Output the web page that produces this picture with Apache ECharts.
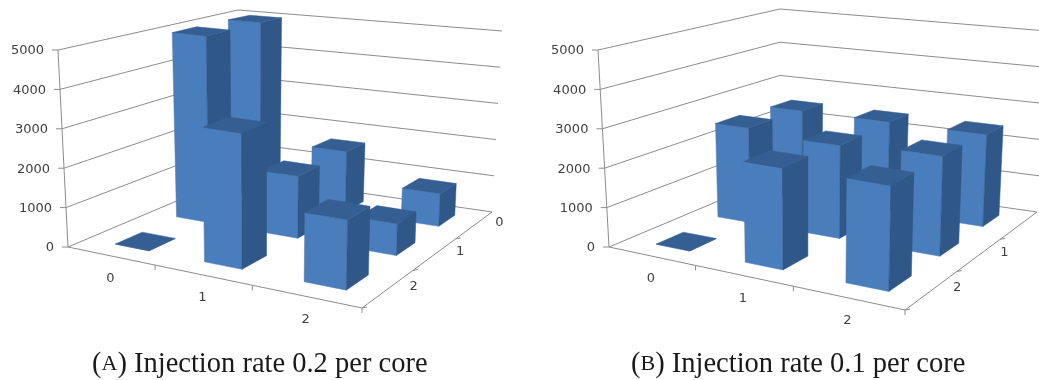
<!DOCTYPE html>
<html>
<head>
    <meta charset="utf-8">
    <title>Injection rate</title>
    <style>
        html, body { margin: 0; padding: 0; background: #fff; }
        #main { width: 1039px; height: 380px; }
    </style>
</head>
<body>
    <div id="main"></div>
    <script src="https://cdn.jsdelivr.net/npm/echarts@6/dist/echarts.min.js"></script>
    <script>
        // data, one list per depth row (row 0 is the back one)
        var columns = ['0', '1', '2'];
        var depths = ['0', '1', '2'];
        var valueTicks = [0, 1000, 2000, 3000, 4000, 5000];
        var rate02Back = [4980, 1650, 870];
        var rate02Middle = [4980, 1610, 800];
        var rate02Front = [0, 3350, 1680];
        var rate01Back = [2470, 2460, 2450];
        var rate01Middle = [2520, 2410, 2520];
        var rate01Front = [0, 2500, 2530];

        // walls of the two scenes as seen on screen: back-left, back-right, front-right, front-left
        var floorA = [[238, 175], [492, 212], [362, 308], [68, 247]];
        var roofA = [[238, 10], [502, 31], [367, 95], [58, 50]];
        var floorB = [[780, 175], [1037, 212], [905, 310], [609, 247]];
        var roofB = [[780, 9], [1047, 31], [910, 96], [598, 50]];

        var GAP_LEFT = 0.33;
        var GAP_RIGHT = 0.28;
        var GAP_DEPTH = 0.29;
        var FRONT = '#4a7dbb';
        var SIDE = '#2f5787';
        var TOP = '#355f92';
        var LINE = '#8c8c8c';
        var LABEL = '#404040';

        // unit square -> quadrilateral
        function homography(q) {
            var dx1 = q[1][0] - q[2][0], dx2 = q[3][0] - q[2][0], sx = q[0][0] - q[1][0] + q[2][0] - q[3][0];
            var dy1 = q[1][1] - q[2][1], dy2 = q[3][1] - q[2][1], sy = q[0][1] - q[1][1] + q[2][1] - q[3][1];
            var den = dx1 * dy2 - dx2 * dy1;
            var g = (sx * dy2 - dx2 * sy) / den;
            var h = (dx1 * sy - sx * dy1) / den;
            var a = q[1][0] - q[0][0] + g * q[1][0], b = q[3][0] - q[0][0] + h * q[3][0];
            var d = q[1][1] - q[0][1] + g * q[1][1], e = q[3][1] - q[0][1] + h * q[3][1];
            return function (u, w) {
                var n = g * u + h * w + 1;
                return [(a * u + b * w + q[0][0]) / n, (d * u + e * w + q[0][1]) / n];
            };
        }

        // column and value go through the hidden axes of the grid, depth is the third dimension.
        // the height vector of a point is blended from the four corners of the scene
        function projector(floor, roof, params, api) {
            var toFloor = homography(floor);
            var rect = params.coordSys;
            function lift(k, i) { return roof[k][i] - floor[k][i]; }
            return function (col, depth, value) {
                var p = api.coord([col, value]);
                var u = (p[0] - rect.x) / rect.width;
                var t = (rect.y + rect.height - p[1]) / rect.height;
                var w = depth / depths.length;
                var f = toFloor(u, w);
                return [0, 1].map(function (i) {
                    var far = lift(0, i) * (1 - u) + lift(1, i) * u;
                    var near = lift(3, i) * (1 - u) + lift(2, i) * u;
                    return f[i] + t * (far * (1 - w) + near * w);
                });
            };
        }

        function segment(a, b) {
            return { type: 'line', shape: { x1: a[0], y1: a[1], x2: b[0], y2: b[1] }, style: { stroke: LINE, lineWidth: 1 } };
        }

        function label(text, x, y, align, size) {
            return { type: 'text', style: { text: text, x: x, y: y, align: align, verticalAlign: 'middle',
                                            font: size + 'px "DejaVu Sans"', fill: LABEL } };
        }

        function wallSeries(gridIndex, floor, roof) {
            return {
                type: 'custom', xAxisIndex: gridIndex, yAxisIndex: gridIndex, silent: true,
                data: valueTicks.map(function (v) { return [0, v]; }),
                renderItem: function (params, api) {
                    var p = projector(floor, roof, params, api);
                    var v = api.value(1);
                    var nc = columns.length, nd = depths.length;
                    var left = p(0, nd, v);
                    var children = [
                        segment(left, p(0, 0, v)),
                        segment(p(0, 0, v), p(nc, 0, v)),
                        segment(left, [left[0] - 6, left[1]]),
                        label(String(v), left[0] - 14, left[1] + 1, 'right', 13)
                    ];
                    if (v > 0) {
                        children.push(segment(left, p(0, nd, v - 1000)));
                    }
                    return { type: 'group', children: children };
                }
            };
        }

        function floorSeries(gridIndex, floor, roof) {
            return {
                type: 'custom', xAxisIndex: gridIndex, yAxisIndex: gridIndex, silent: true,
                data: columns.map(function (c, i) { return [i, 0]; }),
                renderItem: function (params, api) {
                    var p = projector(floor, roof, params, api);
                    var i = api.value(0);
                    var nc = columns.length, nd = depths.length;
                    var a = p(i, nd, 0), b = p(i + 1, nd, 0), m = p(i + 0.5, nd, 0);
                    var c = p(nc, i, 0), d = p(nc, i + 1, 0), n = p(nc, i + 0.5, 0);
                    return { type: 'group', children: [
                        segment(a, b),
                        segment(b, [b[0], b[1] + 5]),
                        segment(c, d),
                        segment(d, [d[0] + 5, d[1] - 1]),
                        label(columns[i], m[0], m[1] + 23, 'center', 13),
                        label(depths[i], n[0] + 25, n[1] - 2, 'center', 13)
                    ] };
                }
            };
        }

        function barSeries(gridIndex, floor, roof, rows) {
            var cells = [];
            rows.forEach(function (row, d) {
                row.forEach(function (v, c) { cells.push([c, v, d]); });
            });
            return {
                type: 'custom', xAxisIndex: gridIndex, yAxisIndex: gridIndex, silent: true,
                data: cells,
                renderItem: function (params, api) {
                    var p = projector(floor, roof, params, api);
                    var c = api.value(0), v = api.value(1), d = api.value(2);
                    var u0 = c + GAP_LEFT, u1 = c + 1 - GAP_RIGHT, w0 = d + GAP_DEPTH, w1 = d + 1 - GAP_DEPTH;
                    function face(points, color) {
                        return { type: 'polygon', shape: { points: points }, style: { fill: color, stroke: color, lineWidth: 0.5 } };
                    }
                    var children = [
                        face([p(u0, w1, 0), p(u1, w1, 0), p(u1, w1, v), p(u0, w1, v)], FRONT),
                        face([p(u1, w1, 0), p(u1, w0, 0), p(u1, w0, v), p(u1, w1, v)], SIDE),
                        face([p(u0, w1, v), p(u1, w1, v), p(u1, w0, v), p(u0, w0, v)], TOP)
                    ];
                    return { type: 'group', children: children };
                }
            };
        }

        function caption(letter, text, left) {
            return {
                left: left, top: 345, text: '({sc|' + letter + '}) ' + text,
                textStyle: { fontFamily: 'Liberation Serif', fontSize: 28.5, fontWeight: 'normal', color: '#1a1a1a',
                             rich: { sc: { fontFamily: 'Liberation Serif', fontSize: 22, color: '#1a1a1a' } } }
            };
        }

        function hiddenX(gridIndex) {
            return { type: 'value', gridIndex: gridIndex, min: 0, max: columns.length, show: false };
        }
        function hiddenY(gridIndex) {
            return { type: 'value', gridIndex: gridIndex, min: 0, max: 5000, interval: 1000, show: false };
        }

        var chart = echarts.init(document.getElementById('main'));
        chart.setOption({
            animation: false,
            backgroundColor: '#fff',
            title: [caption('A', 'Injection rate 0.2 per core', 87), caption('B', 'Injection rate 0.1 per core', 626)],
            grid: [
                { left: 0, top: 0, width: 520, height: 340 },
                { left: 530, top: 0, width: 509, height: 340 }
            ],
            xAxis: [hiddenX(0), hiddenX(1)],
            yAxis: [hiddenY(0), hiddenY(1)],
            series: [
                wallSeries(0, floorA, roofA),
                floorSeries(0, floorA, roofA),
                barSeries(0, floorA, roofA, [rate02Back, rate02Middle, rate02Front]),
                wallSeries(1, floorB, roofB),
                floorSeries(1, floorB, roofB),
                barSeries(1, floorB, roofB, [rate01Back, rate01Middle, rate01Front])
            ]
        });
    </script>
</body>
</html>
